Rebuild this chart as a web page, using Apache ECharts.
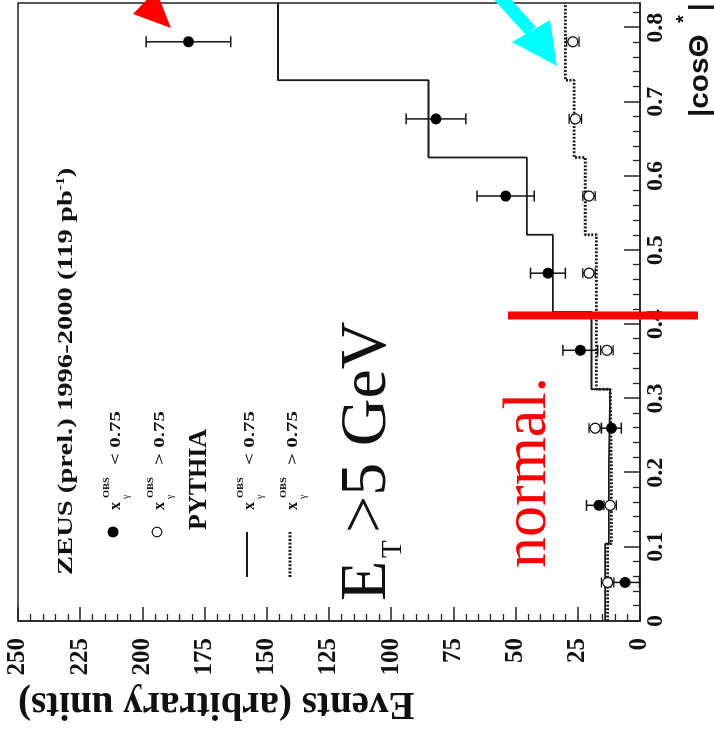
<!DOCTYPE html>
<html>
<head>
<meta charset="utf-8">
<script src="https://cdn.jsdelivr.net/npm/echarts@6/dist/echarts.min.js"></script>
<style>
  html, body { margin: 0; padding: 0; width: 714px; height: 733px; overflow: hidden; background: #fff; }
  /* the plot is laid out landscape and turned a quarter turn counter-clockwise */
  #chart { position: absolute; left: 0; top: 0; width: 733px; height: 714px;
           transform-origin: 0 0; transform: translate(0px, 733px) rotate(-90deg); }
</style>
</head>
<body>
<div id="chart"></div>
<script>
// |cos Theta*| binning
const binEdges   = [0, 0.1042, 0.2083, 0.3125, 0.4167, 0.5208, 0.625, 0.7292, 0.8333];
const binCentres = [0.052, 0.156, 0.26, 0.365, 0.469, 0.573, 0.677, 0.781];

// ZEUS data, x_gamma^OBS < 0.75 (filled) and > 0.75 (open)
const dataLow     = [6, 16.5, 11.5, 24, 37, 54, 82, 181.5];
const dataLowErr  = [5.8, 5, 4, 7, 7, 11.5, 12, 17];
const dataHigh    = [13, 12, 18, 13.3, 20.5, 20.5, 26, 27];
const dataHighErr = [2.5, 2.5, 2.5, 2.5, 2.5, 2.5, 2.5, 2.5];

// PYTHIA predictions per bin
const pythiaLow  = [14, 12.5, 12, 19.5, 35, 45.5, 85, 145.5];
const pythiaHigh = [13, 11.5, 12, 17.5, 17.5, 22, 26.5, 30];

// axis ticks
const cosMajorTicks = [0, 0.1, 0.2, 0.3, 0.4, 0.5, 0.6, 0.7, 0.8];
const cosMinorTicks = [0.02, 0.04, 0.06, 0.08, 0.12, 0.14, 0.16, 0.18, 0.22, 0.24, 0.26, 0.28,
                       0.32, 0.34, 0.36, 0.38, 0.42, 0.44, 0.46, 0.48, 0.52, 0.54, 0.56, 0.58,
                       0.62, 0.64, 0.66, 0.68, 0.72, 0.74, 0.76, 0.78, 0.82];
const cosMax = 0.8333;
const eventsMax = 250;
const eventsStep = 25;

const SERIF = "'Liberation Serif', 'Times New Roman', serif";
const SANS = "'Liberation Sans', Arial, sans-serif";
const INK = '#111';

function stepPoints(values) {
  const pts = values.map((v, i) => [binEdges[i], v]);
  pts.push([binEdges[binEdges.length - 1], values[values.length - 1]]);
  return pts;
}

function errorBars(values, errs, cap, width) {
  return {
    type: 'custom',
    z: 3,
    renderItem(params, api) {
      const x = api.value(0), y = api.value(1), e = api.value(2);
      const lo = api.coord([x, Math.max(0, y - e)]);
      const hi = api.coord([x, y + e]);
      const st = { stroke: INK, lineWidth: width };
      return {
        type: 'group',
        children: [
          { type: 'line', shape: { x1: lo[0], y1: lo[1], x2: hi[0], y2: hi[1] }, style: st },
          { type: 'line', shape: { x1: lo[0] - cap, y1: lo[1], x2: lo[0] + cap, y2: lo[1] }, style: st },
          { type: 'line', shape: { x1: hi[0] - cap, y1: hi[1], x2: hi[0] + cap, y2: hi[1] }, style: st }
        ]
      };
    },
    encode: { x: 0, y: 1 },
    data: binCentres.map((c, i) => [c, values[i], errs[i]])
  };
}

function txt(x, y, text, font, opts) {
  const o = opts || {};
  return {
    type: 'text', x: x, y: y, rotation: o.rotation || 0, scaleX: o.scaleX || 1, z: 100,
    style: {
      text: text, font: font, fill: o.fill || INK,
      textAlign: o.align || 'left', align: o.align || 'left',
      textVerticalAlign: 'middle', verticalAlign: 'middle',
      rich: o.rich
    }
  };
}

function legendLabel(v, sign) {
  return [
    txt(223, v + 3, 'x', 'bold 16px ' + SERIF),
    txt(235, v - 6, 'OBS', 'bold 8px ' + SERIF, { scaleX: 1.3 }),
    txt(234, v + 13, 'γ', '10px ' + SERIF),
    txt(268, v + 3, sign + ' 0.75', 'bold 15px ' + SERIF, { scaleX: 1.4 })
  ];
}

const chart = echarts.init(document.getElementById('chart'));

const option = {
  backgroundColor: '#fff',
  animation: false,
  grid: { left: 112, right: 3, top: 18, bottom: 74, show: true, borderColor: '#222', borderWidth: 1.5 },
  xAxis: [
    {
      type: 'value', min: 0, max: cosMax, position: 'bottom',
      axisLine: { lineStyle: { color: '#222', width: 1.5 } },
      axisTick: { inside: true, length: 16, customValues: cosMajorTicks, lineStyle: { color: '#222', width: 1.5 } },
      axisLabel: {
        customValues: cosMajorTicks, margin: 4, color: INK,
        fontFamily: SERIF, fontWeight: 'bold', fontSize: 24,
        formatter: v => (v === 0 ? '0' : v.toFixed(1))
      },
      splitLine: { show: false }
    },
    {
      type: 'value', min: 0, max: cosMax, position: 'bottom',
      axisLine: { show: false },
      axisTick: { inside: true, length: 7, customValues: cosMinorTicks, lineStyle: { color: '#222', width: 1.3 } },
      axisLabel: { show: false },
      splitLine: { show: false }
    }
  ],
  yAxis: {
    type: 'value', min: 0, max: eventsMax, interval: eventsStep,
    axisLine: { lineStyle: { color: '#222', width: 1.5 } },
    axisTick: { inside: true, length: 14, lineStyle: { color: '#222', width: 1.5 } },
    minorTick: { show: true, splitNumber: 5, length: 7, lineStyle: { color: '#222', width: 1.3 } },
    axisLabel: { margin: 17, color: INK, fontFamily: SERIF, fontWeight: 'bold', fontSize: 25 },
    splitLine: { show: false }
  },
  series: [
    {
      type: 'line', step: 'end', symbol: 'none', z: 2,
      lineStyle: { color: '#1a1a1a', width: 1.8 },
      data: stepPoints(pythiaLow)
    },
    {
      type: 'line', step: 'end', symbol: 'none', z: 2,
      lineStyle: { color: '#1a1a1a', width: 2.8, type: [2, 1.6] },
      data: stepPoints(pythiaHigh)
    },
    errorBars(dataLow, dataLowErr, 5.5, 1.5),
    errorBars(dataHigh, dataHighErr, 5, 1.3),
    {
      type: 'scatter', symbol: 'circle', symbolSize: 11, z: 5,
      itemStyle: { color: '#000', opacity: 1 },
      data: binCentres.map((c, i) => [c, dataLow[i]])
    },
    {
      type: 'scatter', symbol: 'circle', symbolSize: 10, z: 5,
      itemStyle: { color: '#fff', borderColor: INK, borderWidth: 1.3, opacity: 1 },
      data: binCentres.map((c, i) => [c, dataHigh[i]])
    }
  ]
};
chart.setOption(option);

// annotations and legend, placed in pixel space of the landscape canvas
const cutX = chart.convertToPixel({ xAxisIndex: 0 }, 0.412);
const graphics = [
  // titles
  txt(30, 18, 'Events (arbitrary units)', 'bold 39px ' + SERIF, { rotation: Math.PI / 2, align: 'right' }),
  txt(616, 701, '|cosΘ', 'bold 27px ' + SANS, { scaleX: 1.1 }),
  txt(710, 684, '*', 'bold 20px ' + SANS),
  txt(722, 701, '|', 'bold 27px ' + SANS),
  txt(158, 66, '{m|ZEUS (prel.) 1996-2000 (119 pb}{s|-1}{m|)}', '', {
    scaleX: 1.3,
    rich: {
      m: { fontFamily: SERIF, fontWeight: 'bold', fontSize: 22, fill: INK, color: INK },
      s: { fontFamily: SERIF, fontWeight: 'bold', fontSize: 12, fill: INK, color: INK, verticalAlign: 'top' }
    }
  }),
  // legend
  { type: 'circle', shape: { cx: 201, cy: 113, r: 5.5 }, style: { fill: '#000' }, z: 100 },
  { type: 'circle', shape: { cx: 201, cy: 157, r: 4.8 }, style: { fill: '#fff', stroke: INK, lineWidth: 1.2 }, z: 100 },
  txt(203, 199, 'PYTHIA', 'bold 26px ' + SERIF),
  { type: 'line', shape: { x1: 156, y1: 247, x2: 201, y2: 247 }, style: { stroke: '#1a1a1a', lineWidth: 1.8 }, z: 100 },
  { type: 'line', shape: { x1: 156, y1: 290, x2: 201, y2: 290 }, style: { stroke: '#1a1a1a', lineWidth: 2.8, lineDash: [2, 1.6] }, z: 100 },
  ...legendLabel(113, '<'),
  ...legendLabel(157, '>'),
  ...legendLabel(247, '<'),
  ...legendLabel(290, '>'),
  // overlay notes
  txt(132, 368, 'E', '66px ' + SERIF),
  txt(175, 393, 'T', '29px ' + SERIF),
  txt(200, 368, '>5 GeV', '66px ' + SERIF),
  txt(165, 529, 'normal.', '62px ' + SERIF, { fill: '#ff0000' }),
  { type: 'rect', shape: { x: cutX - 4, y: 508, width: 8, height: 190 }, style: { fill: '#ff0000' }, z: 110 },
  { type: 'polygon', shape: { points: [[719, 133], [705, 171], [743, 156]] }, style: { fill: '#ff0000' }, z: 110 },
  { type: 'line', shape: { x1: 742, y1: 495, x2: 702, y2: 531 }, style: { stroke: '#00ffff', lineWidth: 13 }, z: 110 },
  { type: 'polygon', shape: { points: [[691, 512], [713, 550], [667, 557]] }, style: { fill: '#00ffff' }, z: 110 }
];
chart.setOption({ graphic: graphics });
</script>
</body>
</html>
